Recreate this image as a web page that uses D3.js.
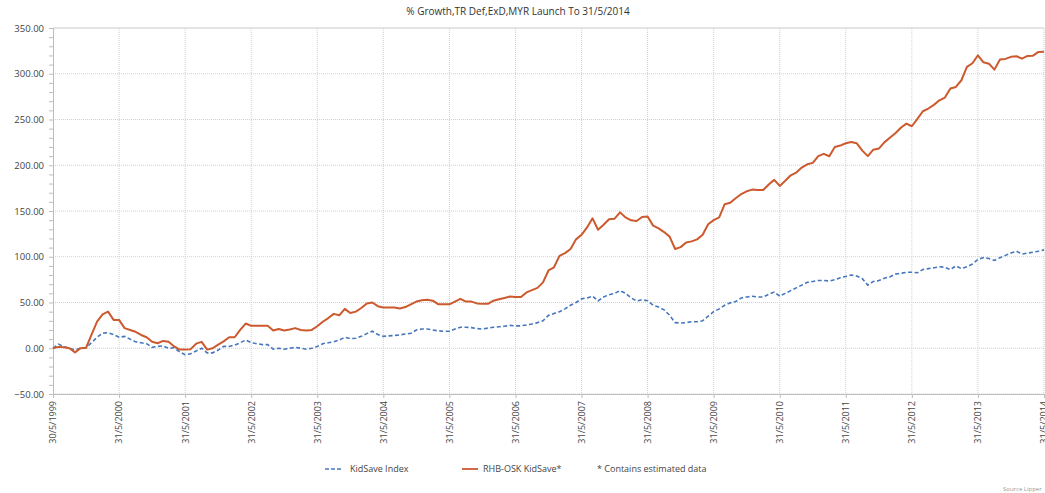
<!DOCTYPE html>
<html>
<head>
<meta charset="utf-8">
<script src="https://cdn.jsdelivr.net/npm/d3@7"></script>
<style>
  body { margin: 0; background: #fff; }
  svg { display: block; }
  .tick text { fill: #444; }
</style>
</head>
<body>
<div id="chart"></div>
<script>
// svg definitions
let svgWidth = 1045;
let svgHeight = 493;

// borders of the plot area
let margin = { top: 28, right: 1, bottom: 99, left: 53 };
let width = svgWidth - margin.left - margin.right;
let height = svgHeight - margin.top - margin.bottom;

// chart data, one value per month from 30/5/1999 to 31/5/2014
let tickLabels = ['30/5/1999', '31/5/2000', '31/5/2001', '31/5/2002', '31/5/2003',
  '31/5/2004', '31/5/2005', '31/5/2006', '31/5/2007', '31/5/2008', '31/5/2009',
  '31/5/2010', '31/5/2011', '31/5/2012', '31/5/2013', '31/5/2014'];

let seriesNames = ['KidSave Index', 'RHB-OSK KidSave*'];

let fundValues = [
  0, 1.5, 1, 0, -4.5, 0, 0.5, 15, 29, 37,
  40, 31, 31, 22, 20, 18, 14.5, 12, 7, 5.5,
  8, 7, 2, -1.5, -1.5, -1, 5, 7, -1.5, 0,
  4, 7.5, 12, 12, 20, 27, 24.5, 24.5, 24.5, 24.5,
  19.5, 21, 19.5, 20.5, 22, 20, 19.5, 20, 24, 29,
  33, 37.6, 36, 43, 38.5, 40, 44, 49, 50, 46,
  44.6, 44.6, 44.6, 43.5, 45, 48, 51, 52.5, 53, 52,
  48, 48, 48, 51, 54, 51, 51, 49, 48.5, 48.5,
  52, 53.5, 55, 56.5, 56, 56, 61, 63.5, 66, 72,
  85, 88.5, 101, 104, 108.5, 119, 124, 132, 142, 129.5,
  135, 141, 141.6, 148.5, 143, 139.8, 139, 143.5, 144, 134,
  131, 127, 122, 108.5, 110.5, 115.5, 116.8, 119, 124, 135.5,
  140, 143, 157.4, 159, 164, 168.5, 171.5, 173.4, 173, 173,
  179, 184, 177.4, 183, 189, 192, 197.5, 201, 202.6, 210,
  212.5, 209.8, 220, 221.5, 224, 225.5, 224, 216, 210, 217,
  218.2, 225, 230, 235, 241, 245.5, 242.6, 250.6, 259, 262,
  266, 271, 274, 283.8, 285.6, 292.9, 307.5, 311.5, 320.2, 312.5,
  311, 304.5, 315.5, 316.2, 318.5, 319.1, 316.5, 319.5, 319.8, 323.9, 324
];

let indexValues = [
  0, 4.5, 1.5, 0, -2, 0, 0.5, 6, 12, 16.5,
  17, 15, 12, 13, 10, 7, 6, 5, 1, 2,
  2.5, 0, 0.5, -4, -7, -6, -3, 0, -5, -5,
  -2, 2, 2, 3.5, 6, 9, 6, 5, 4, 4,
  -1, 0, -1, 0, 1, 0, -1, 0, 2, 5,
  6, 7, 9, 12, 10.5, 11, 13, 16, 18.6, 15,
  13, 13.5, 14, 14.6, 15.5, 16.4, 20, 21, 21, 20,
  19, 18.6, 18.6, 21, 23, 23, 22.5, 21.5, 21, 22,
  23, 23.5, 24, 25, 24.5, 24.5, 25.5, 26.5, 28, 30,
  36, 38, 40, 43, 47, 50, 54, 55, 57, 51.7,
  56, 58.5, 60, 63, 60, 55, 51.7, 53, 52, 47,
  45, 42, 36, 28, 27.5, 28, 29, 29, 30, 35,
  40, 43, 47, 49.6, 51, 55, 56, 56.8, 56, 56,
  59, 61.4, 57, 60, 63, 66, 69, 72, 73, 74,
  74, 73.5, 75, 77, 78.5, 80, 79, 76, 69, 73,
  74, 76.5, 78, 81, 82, 83, 83, 82.5, 86, 87,
  88, 89, 88.5, 86, 90, 87, 89, 92, 97, 99,
  98, 96, 99, 101.5, 104, 106, 103, 104, 105, 106, 107.5
];

let yTicks = [-50, 0, 50, 100, 150, 200, 250, 300, 350];

// svg
let svg = d3.select('#chart')
  .append('svg')
  .attr('width', svgWidth)
  .attr('height', svgHeight);

let chartG = svg.append('g')
  .attr('transform', `translate(${margin.left}, ${margin.top})`);

// scales (x = month index, one tick per year)
let xScale = d3.scaleLinear()
  .domain([0, fundValues.length - 1])
  .range([0, width]);

let yScale = d3.scaleLinear()
  .domain([-50, 350])
  .range([height, 0]);

let yearTicks = tickLabels.map((d, i) => i * 12);

// gridlines
chartG.append('g')
  .selectAll('line')
  .data(yTicks)
  .enter()
  .append('line')
  .attr('x1', 0)
  .attr('x2', width)
  .attr('y1', d => yScale(d))
  .attr('y2', d => yScale(d))
  .attr('stroke', d => d === 350 ? '#c8c8c8' : '#cfcfcf')
  .attr('stroke-dasharray', d => d === 350 ? null : '1,1');

chartG.append('g')
  .selectAll('line')
  .data(yearTicks.slice(1))
  .enter()
  .append('line')
  .attr('x1', d => xScale(d))
  .attr('x2', d => xScale(d))
  .attr('y1', 0)
  .attr('y2', height)
  .attr('stroke', '#cfcfcf')
  .attr('stroke-dasharray', '1,1');

// y axis with minor ticks every 10
let minorAxis = d3.axisLeft(yScale)
  .tickValues(d3.range(-50, 351, 10))
  .tickSize(4)
  .tickFormat('');

let yMinor = chartG.append('g').call(minorAxis);
yMinor.select('.domain').attr('stroke', '#bdbdbd');
yMinor.selectAll('.tick line').attr('stroke', '#bdbdbd');

let leftAxis = d3.axisLeft(yScale)
  .tickValues(yTicks)
  .tickSize(0)
  .tickPadding(9)
  .tickFormat(d3.format('.2f'));

let yAxis = chartG.append('g').call(leftAxis);
yAxis.select('.domain').remove();
yAxis.selectAll('text')
  .attr('font-family', '"Open Sans", sans-serif')
  .attr('font-size', '9.5px')
  .attr('fill', '#444');

// x axis
let bottomAxis = d3.axisBottom(xScale)
  .tickValues(yearTicks)
  .tickSize(4)
  .tickFormat((d, i) => tickLabels[i]);

let xAxis = chartG.append('g')
  .attr('transform', `translate(0, ${height})`)
  .call(bottomAxis);
xAxis.select('.domain').attr('stroke', '#bdbdbd');
xAxis.selectAll('.tick line').attr('stroke', '#bdbdbd');
xAxis.selectAll('text')
  .attr('font-family', '"Liberation Sans Narrow", "Open Sans", sans-serif')
  .attr('font-size', '9px')
  .attr('fill', '#444')
  .attr('text-anchor', 'end')
  .attr('transform', 'rotate(-90)')
  .attr('x', -7)
  .attr('y', 0)
  .attr('dy', '0.32em');

// lines
let line = d3.line()
  .x((d, i) => xScale(i))
  .y(d => yScale(d));

chartG.append('path')
  .datum(indexValues)
  .attr('fill', 'none')
  .attr('stroke', '#4677bd')
  .attr('stroke-width', 1.6)
  .attr('stroke-dasharray', '4,2.5')
  .attr('d', line);

chartG.append('path')
  .datum(fundValues)
  .attr('fill', 'none')
  .attr('stroke', '#cc5a2e')
  .attr('stroke-width', 2)
  .attr('stroke-linejoin', 'round')
  .attr('d', line);

// title
svg.append('text')
  .attr('x', 518)
  .attr('y', 15)
  .attr('text-anchor', 'middle')
  .attr('font-family', '"Liberation Sans Narrow", "Open Sans", sans-serif')
  .attr('font-size', '10px')
  .attr('fill', '#333')
  .text('% Growth,TR Def,ExD,MYR Launch To 31/5/2014');

// legend
let legend = svg.append('g')
  .attr('font-family', '"Open Sans", sans-serif')
  .attr('font-size', '9px')
  .attr('fill', '#444');

legend.append('line')
  .attr('x1', 325).attr('x2', 341)
  .attr('y1', 469).attr('y2', 469)
  .attr('stroke', '#4677bd')
  .attr('stroke-width', 1.5)
  .attr('stroke-dasharray', '4,2');

legend.append('text')
  .attr('x', 350).attr('y', 472)
  .text(seriesNames[0]);

legend.append('line')
  .attr('x1', 462).attr('x2', 478)
  .attr('y1', 469).attr('y2', 469)
  .attr('stroke', '#cc5a2e')
  .attr('stroke-width', 1.8);

legend.append('text')
  .attr('x', 483).attr('y', 472)
  .text(seriesNames[1]);

legend.append('text')
  .attr('x', 597).attr('y', 472)
  .text('*  Contains estimated data');

// source
svg.append('text')
  .attr('x', 1003)
  .attr('y', 491)
  .attr('font-family', '"Open Sans", sans-serif')
  .attr('font-size', '6px')
  .attr('fill', '#999')
  .text('Source Lipper');
</script>
</body>
</html>
